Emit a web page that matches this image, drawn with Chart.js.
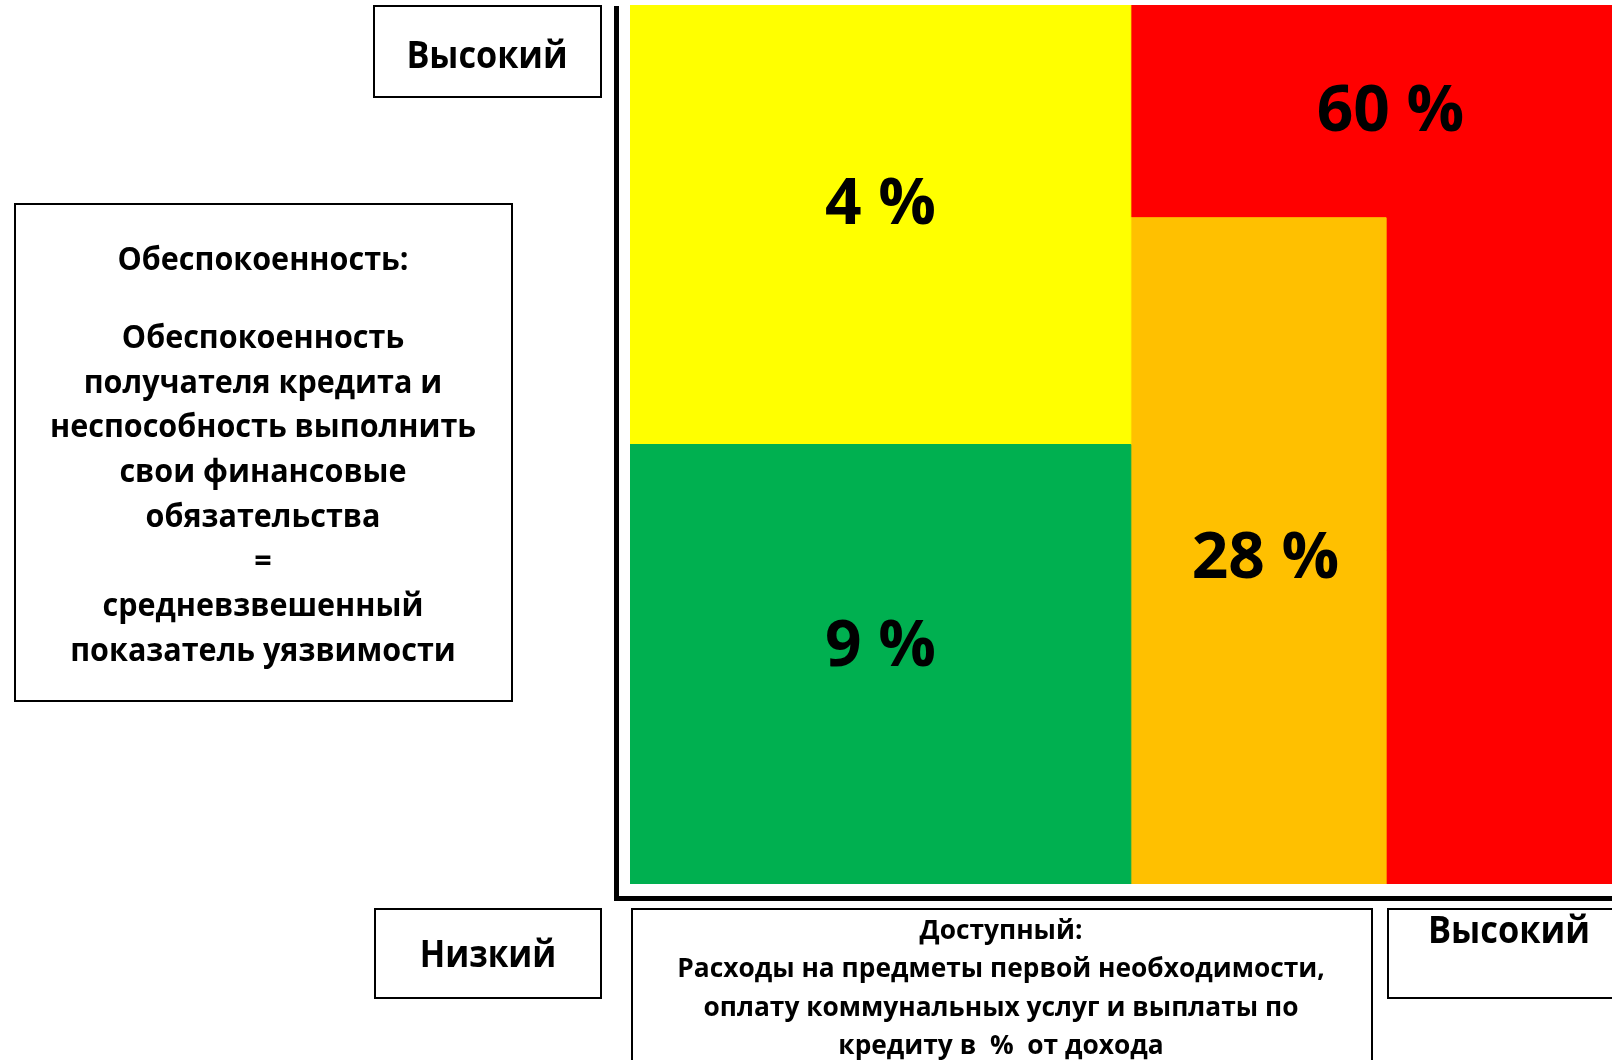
<!DOCTYPE html>
<html>
<head>
<meta charset="utf-8">
<script src="https://cdn.jsdelivr.net/npm/chart.js@4.4.1/dist/chart.umd.min.js"></script>
<style>
  body { margin: 0; background: #fff; }
  canvas { display: block; }
</style>
</head>
<body>
<canvas id="riskChart" width="1612" height="1060"></canvas>
<script>
// cells of the matrix: share of borrowers (%) and the cell bounds in axis units (0..100)
const cellValues = [9, 4, 28, 60];
const cellX0 = [0, 0, 51, 51];
const cellX1 = [51, 51, 77, 100];
const cellY0 = [0, 50, 0, 0];
const cellY1 = [50, 100, 75.8, 100];

const yHighLabel = "Высокий";
const yLowLabel = "Низкий";
const xHighLabel = "Высокий";
const yTitleHead = "Обеспокоенность:";
const yTitleLines = [
  "Обеспокоенность",
  "получателя кредита и",
  "неспособность выполнить",
  "свои финансовые",
  "обязательства",
  "=",
  "средневзвешенный",
  "показатель уязвимости",
];
const xTitleLines = [
  "Доступный:",
  "Расходы на предметы первой необходимости,",
  "оплату коммунальных услуг и выплаты по",
  "кредиту в  %  от дохода",
];

const cellColors = ["#00B050", "#FFFF00", "#FFC000", "#FF0000"];
const cellOrder = [0, 0, 0, 1]; // red sits behind the orange block
const labelOffsets = [[0, -21], [0, -24], [7, 4], [19, -3]];

const FONT = '"Open Sans", "Noto Sans", sans-serif';

const datasets = cellValues.map((v, i) => ({
  label: v + " %",
  data: [
    { x: cellX0[i], y: cellY0[i] },
    { x: cellX1[i], y: cellY0[i] },
    { x: cellX1[i], y: cellY1[i] },
    { x: cellX0[i], y: cellY1[i] },
    { x: cellX0[i], y: cellY0[i] },
  ],
  showLine: true,
  fill: "shape",
  backgroundColor: cellColors[i],
  borderColor: cellColors[i],
  borderWidth: 1,
  pointRadius: 0,
  tension: 0,
  order: cellOrder[i],
}));

function drawText(ctx, str, cx, baseline, size, squeeze) {
  ctx.save();
  ctx.font = "bold " + size + "px " + FONT;
  ctx.textAlign = "center";
  ctx.textBaseline = "alphabetic";
  ctx.translate(cx, baseline);
  ctx.scale(squeeze, 1);
  ctx.fillText(str, 0, 0);
  ctx.restore();
}

const decor = {
  id: "riskDecor",
  afterDatasetsDraw(chart) {
    const { ctx, scales: { x, y } } = chart;
    ctx.save();
    ctx.fillStyle = "#000";
    ctx.font = "bold 64px " + FONT;
    ctx.textAlign = "center";
    cellValues.forEach((v, i) => {
      // visible part of the cell: skip blocks drawn over its lower part
      let vy0 = cellY0[i];
      cellValues.forEach((w, j) => {
        if (j !== i && cellOrder[j] < cellOrder[i] && cellX0[j] >= cellX0[i] &&
            cellX1[j] <= cellX1[i] && cellY0[j] === cellY0[i]) {
          vy0 = Math.max(vy0, cellY1[j]);
        }
      });
      const txt = v + " %";
      const m = ctx.measureText(txt);
      const cx = x.getPixelForValue((cellX0[i] + cellX1[i]) / 2) + labelOffsets[i][0];
      const cy = y.getPixelForValue((vy0 + cellY1[i]) / 2) + labelOffsets[i][1];
      ctx.fillText(txt, cx, cy + (m.actualBoundingBoxAscent - m.actualBoundingBoxDescent) / 2);
    });
    ctx.restore();
  },
  afterDraw(chart) {
    const ctx = chart.ctx;
    ctx.save();
    ctx.fillStyle = "#000";
    // axes
    ctx.fillRect(614, 6, 5, 895);
    ctx.fillRect(614, 896, 998, 5);
    // boxes
    ctx.strokeStyle = "#000";
    ctx.lineWidth = 2;
    ctx.strokeRect(374, 6, 227, 91);
    ctx.strokeRect(15, 204, 497, 497);
    ctx.strokeRect(375, 909, 226, 89);
    ctx.strokeRect(632, 909, 740, 200);
    ctx.strokeRect(1388, 909, 300, 89);
    // texts
    drawText(ctx, yHighLabel, 487, 68, 38, 0.9);
    drawText(ctx, yLowLabel, 488, 967, 37, 0.9);
    drawText(ctx, xHighLabel, 1509, 943, 37, 0.93);
    drawText(ctx, yTitleHead, 263, 270, 33, 0.925);
    yTitleLines.forEach((s, k) => drawText(ctx, s, 263, 348 + 44.7 * k, 33, 0.925));
    xTitleLines.forEach((s, k) => drawText(ctx, s, 1001, 939 + 38.4 * k, 27, 0.975));
    ctx.restore();
  },
};

new Chart(document.getElementById("riskChart"), {
  type: "scatter",
  data: { datasets },
  options: {
    responsive: false,
    animation: false,
    events: [],
    layout: { padding: { left: 630, right: 0, top: 5, bottom: 176 } },
    scales: {
      x: { type: "linear", min: 0, max: 100, display: false },
      y: { type: "linear", min: 0, max: 100, display: false },
    },
    plugins: { legend: { display: false }, tooltip: { enabled: false } },
  },
  plugins: [decor],
});
</script>
</body>
</html>
